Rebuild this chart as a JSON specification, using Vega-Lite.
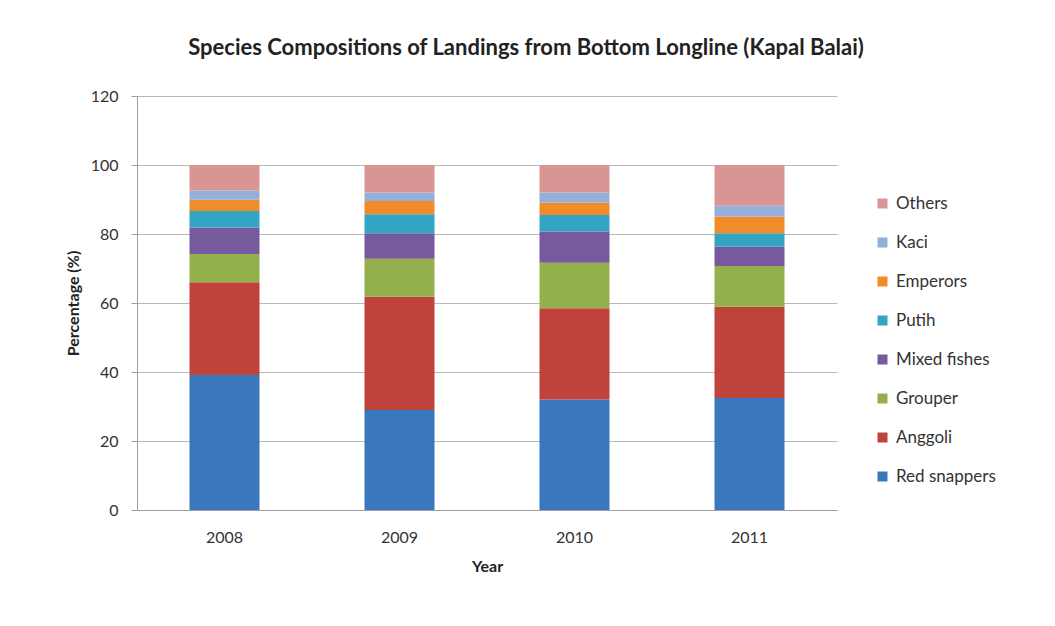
{
  "$schema": "https://vega.github.io/schema/vega-lite/v6.json",
  "autosize": "none",
  "width": 700,
  "height": 414,
  "padding": {"left": 137, "top": 96, "right": 218, "bottom": 116},
  "background": "white",
  "title": {
    "text": "Species Compositions of Landings from Bottom Longline (Kapal Balai)",
    "font": "Lato",
    "fontSize": 22,
    "fontWeight": "bold",
    "color": "#222222",
    "anchor": "middle",
    "dx": 39,
    "offset": 28
  },
  "data": {
    "values": [
      {"year": "2008", "species": "Red snappers", "pct": 39.1},
      {"year": "2008", "species": "Anggoli", "pct": 26.9},
      {"year": "2008", "species": "Grouper", "pct": 8.2},
      {"year": "2008", "species": "Mixed fishes", "pct": 7.7},
      {"year": "2008", "species": "Putih", "pct": 4.8},
      {"year": "2008", "species": "Emperors", "pct": 3.2},
      {"year": "2008", "species": "Kaci", "pct": 2.7},
      {"year": "2008", "species": "Others", "pct": 7.4},
      {"year": "2009", "species": "Red snappers", "pct": 29.0},
      {"year": "2009", "species": "Anggoli", "pct": 32.8},
      {"year": "2009", "species": "Grouper", "pct": 11.0},
      {"year": "2009", "species": "Mixed fishes", "pct": 7.4},
      {"year": "2009", "species": "Putih", "pct": 5.5},
      {"year": "2009", "species": "Emperors", "pct": 3.9},
      {"year": "2009", "species": "Kaci", "pct": 2.4},
      {"year": "2009", "species": "Others", "pct": 8.0},
      {"year": "2010", "species": "Red snappers", "pct": 32.0},
      {"year": "2010", "species": "Anggoli", "pct": 26.5},
      {"year": "2010", "species": "Grouper", "pct": 13.2},
      {"year": "2010", "species": "Mixed fishes", "pct": 9.0},
      {"year": "2010", "species": "Putih", "pct": 4.8},
      {"year": "2010", "species": "Emperors", "pct": 3.6},
      {"year": "2010", "species": "Kaci", "pct": 2.9},
      {"year": "2010", "species": "Others", "pct": 8.0},
      {"year": "2011", "species": "Red snappers", "pct": 32.5},
      {"year": "2011", "species": "Anggoli", "pct": 26.4},
      {"year": "2011", "species": "Grouper", "pct": 11.8},
      {"year": "2011", "species": "Mixed fishes", "pct": 5.6},
      {"year": "2011", "species": "Putih", "pct": 3.9},
      {"year": "2011", "species": "Emperors", "pct": 4.9},
      {"year": "2011", "species": "Kaci", "pct": 3.1},
      {"year": "2011", "species": "Others", "pct": 11.8}
    ]
  },
  "transform": [
    {"calculate": "indexof(['Red snappers', 'Anggoli', 'Grouper', 'Mixed fishes', 'Putih', 'Emperors', 'Kaci', 'Others'], datum.species)", "as": "stackRank"}
  ],
  "mark": {"type": "bar"},
  "encoding": {
    "x": {
      "field": "year",
      "type": "nominal",
      "scale": {"paddingInner": 0.6, "paddingOuter": 0.3},
      "axis": {
        "title": "Year",
        "labelAngle": 0,
        "labelFont": "Lato",
        "labelFontSize": 16,
        "labelColor": "#333333",
        "labelPadding": 19,
        "titleFont": "Lato",
        "titleFontSize": 16,
        "titleFontWeight": "bold",
        "titleColor": "#222222",
        "titlePadding": 13,
        "ticks": false,
        "domainColor": "#a0a0a0",
        "grid": false
      }
    },
    "y": {
      "field": "pct",
      "type": "quantitative",
      "stack": "zero",
      "scale": {"domain": [0, 120]},
      "axis": {
        "title": "Percentage (%)",
        "values": [0, 20, 40, 60, 80, 100, 120],
        "labelFont": "Lato",
        "labelFontSize": 16,
        "labelColor": "#333333",
        "labelPadding": 13,
        "titleFont": "Lato",
        "titleFontSize": 16,
        "titleFontWeight": "bold",
        "titleColor": "#222222",
        "titlePadding": 9,
        "tickSize": 6,
        "tickColor": "#a0a0a0",
        "domainColor": "#a0a0a0",
        "gridColor": "#b8b8b8",
        "gridWidth": 1
      }
    },
    "order": {"field": "stackRank", "type": "quantitative"},
    "color": {
      "field": "species",
      "type": "nominal",
      "scale": {
        "domain": ["Others", "Kaci", "Emperors", "Putih", "Mixed fishes", "Grouper", "Anggoli", "Red snappers"],
        "range": ["#d99594", "#95b0d8", "#f08c2a", "#33a4c3", "#77599e", "#93b04c", "#c0433b", "#3a78bd"]
      },
      "legend": {
        "title": null,
        "orient": "none",
        "legendX": 737,
        "legendY": 99,
        "symbolType": "square",
        "symbolSize": 100,
        "symbolStrokeWidth": 0,
        "labelFont": "Lato",
        "labelFontSize": 17,
        "labelColor": "#333333",
        "labelOffset": 5,
        "rowPadding": 21
      }
    }
  },
  "config": {
    "view": {"stroke": null}
  }
}
